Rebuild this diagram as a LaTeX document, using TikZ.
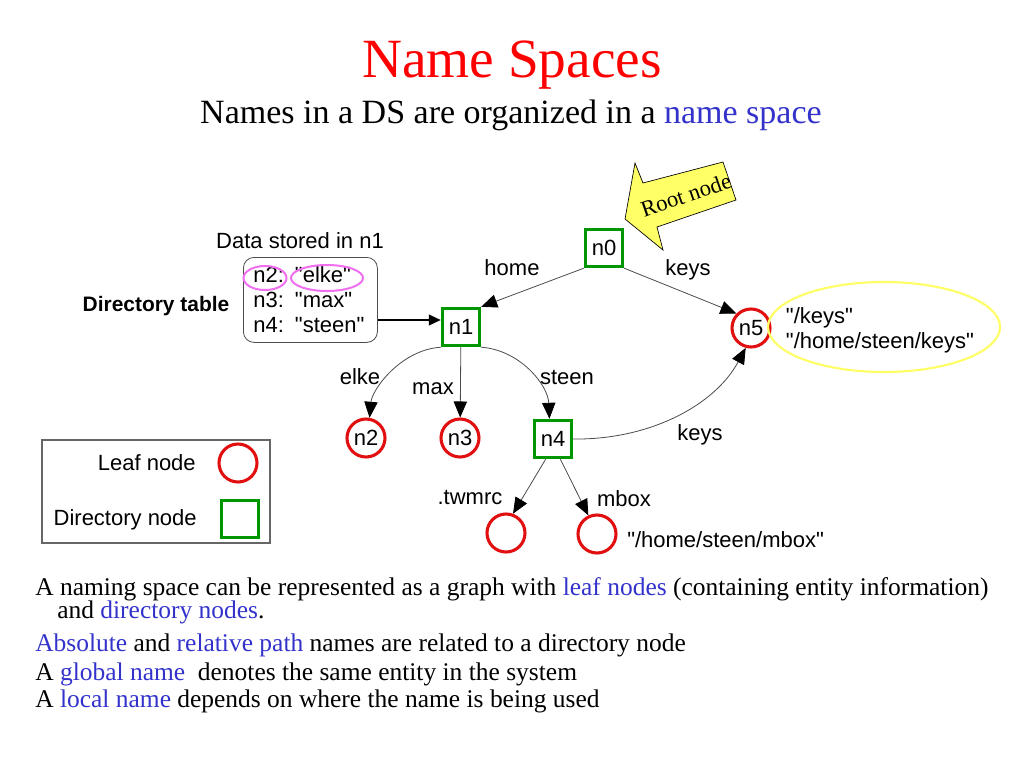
\documentclass[tikz,border=0pt]{standalone}
\usepackage{fontspec}
\setmainfont{Liberation Serif}
\setsansfont[Ligatures=TeXOff]{Liberation Sans}
\usepackage{xcolor}
\usetikzlibrary{arrows.meta,calc}

\definecolor{nsred}{RGB}{225,15,15}
\definecolor{nsgreen}{RGB}{0,150,0}
\definecolor{nsblue}{RGB}{51,51,204}
\definecolor{nsyellow}{RGB}{255,255,102}
\definecolor{nsmagenta}{RGB}{240,110,240}

\tikzset{
 dirnode/.style={draw=nsgreen,line width=2.3pt,minimum size=28pt,inner sep=0pt,
  font=\sffamily\fontsize{16.5}{18}\selectfont},
 leafnode/.style={circle,draw=nsred,line width=2.3pt,minimum size=28.5pt,inner sep=0pt,
  font=\sffamily\fontsize{16.5}{18}\selectfont},
 lbl/.style={inner sep=0pt,font=\sffamily\fontsize{16.5}{18.75}\selectfont},
 edge/.style={draw=black!70,line width=0.6pt,-{Triangle[length=12pt,width=10pt,color=black]}},
 body/.style={anchor=base west,inner sep=0pt,font=\fontsize{19.1}{23}\selectfont},
}

\begin{document}
\begin{tikzpicture}[x=0.75pt,y=-0.75pt]

\fill[white] (0,0) rectangle (1024,768);
\useasboundingbox (0,0) rectangle (1024,768);

%title
\node[anchor=base,text=red,font=\fontsize{41.5}{48}\selectfont] (title) at (512,77) {Name Spaces};
\node[anchor=base,font=\fontsize{25.5}{30}\selectfont] (subtitle) at (511,123)
 {Names in a DS are organized in a \textcolor{nsblue}{name space}};

%tree
\node[dirnode] (n0) at (604,248) {n0};
\node[dirnode] (n1) at (461,327) {n1};
\node[dirnode] (n4) at (553,439) {n4};
\node[leafnode] (n2) at (366,438) {n2};
\node[leafnode] (n3) at (460,438) {n3};
\node[leafnode] (n5) at (751,328) {n5};
\node[leafnode] (lf1) at (506,533) {};
\node[leafnode] (lf2) at (597,534) {};

\draw[edge] (n0.south west) -- (n1.north east);
\draw[edge] (n0.south east) -- (n5.north west);
\draw[edge] (n1.south west) .. controls (400,350) and (372,390) .. (n2.80);
\draw[edge] (n1) -- (n3);
\draw[edge] (n1.south east) .. controls (520,350) and (548,385) .. (n4.100);
\draw[edge] (n4.east) .. controls (650,440) and (715,405) .. (n5.-105);
\draw[edge] (n4.-110) -- (lf1.70);
\draw[edge] (n4.-70) -- (lf2.115);

\node[lbl] (lhome) at (512,268) {home};
\node[lbl] (lkeys) at (688,270) {keys};
\node[lbl] (lelke) at (360,377) {elke};
\node[lbl] (lmax) at (433,389) {max};
\node[lbl] (lsteen) at (567,377) {steen};
\node[lbl] (lkeys2) at (700,435) {keys};
\node[lbl] (ltwmrc) at (470,497) {.twmrc};
\node[lbl] (lmbox) at (624,499) {mbox};
\node[lbl,anchor=west] (mboxpath) at (627,540) {"/home/steen/mbox"};

%names of n5
\draw[nsyellow,line width=1.6pt] (884,327) ellipse [x radius=116,y radius=45];
\node[lbl,align=left] (n5names) at (880,330) {"/keys"\\"/home/steen/keys"};

%directory table of n1
\node[lbl,draw=black!70,line width=0.6pt,rounded corners=8pt,anchor=north west,
 text width=85.5pt,minimum height=63.75pt,inner xsep=7.5pt,align=left]
 (tbl) at (243,257) {n2: "elke"\\n3: "max"\\n4: "steen"};
\draw[nsmagenta,line width=1.5pt] (265,278) ellipse [x radius=21.5,y radius=12];
\draw[nsmagenta,line width=1.5pt] (327,278) ellipse [x radius=36,y radius=13];
\node[lbl] (tbltitle) at (300,241) {Data stored in n1};
\node[lbl,font=\sffamily\bfseries\fontsize{15.7}{18}\selectfont] (dirtbl) at (156,306) {Directory table};
\coordinate (tblarrow) at (0,320);
\draw[line width=1.5pt,-{Triangle[length=9pt,width=8pt]}] (tbl.east |- tblarrow) -- (n1.west |- tblarrow);

%root callout
\draw[fill=nsyellow,line width=0.5pt] (625,219) -- (635,163) -- (643,183) -- (723,162)
 -- (736,200) -- (657,227) -- (663,250) -- cycle;
\node[rotate=19,inner sep=0pt,font=\fontsize{17}{19}\selectfont] (rootlbl) at (686,195) {Root node};

%legend
\draw[black!60,line width=0.8pt] (42,440) rectangle (270,543);
\node[lbl,anchor=east] (lgleaf) at (196,463) {Leaf node};
\node[leafnode] (lgcirc) at (238,463) {};
\node[lbl,anchor=east] (lgdir) at (197,520) {Directory node};
\node[dirnode] (lgsq) at (240,519) {};

%text
\node[body] (line1) at (35,595) {A naming space can be represented as a graph with
 \textcolor{nsblue}{leaf nodes} (containing entity information)};
\node[body] (line1b) at (57,618) {and \textcolor{nsblue}{directory nodes}.};
\node[body] (line2) at (35,651) {\textcolor{nsblue}{Absolute} and \textcolor{nsblue}{relative path}
 names are related to a directory node};
\node[body] (line3) at (35,680) {A \textcolor{nsblue}{global name}\ \ denotes the same entity in the system};
\node[body] (line4) at (35,707) {A \textcolor{nsblue}{local name} depends on where the name is being used};

\end{tikzpicture}
\end{document}
